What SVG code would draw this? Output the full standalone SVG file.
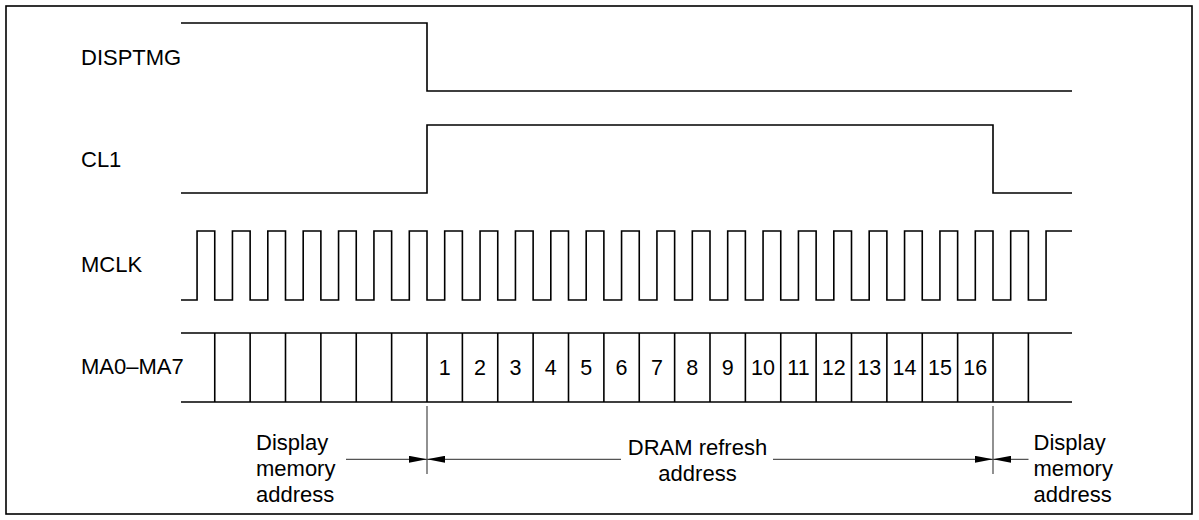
<svg xmlns="http://www.w3.org/2000/svg" width="1199" height="520" viewBox="0 0 1199 520">
<style>
.sig{fill:none;stroke:#000;stroke-width:1.6}
.lbl{font-family:"Liberation Sans",Arial,sans-serif;font-size:22px;fill:#000}
.num{font-family:"Liberation Sans",Arial,sans-serif;font-size:21.5px;fill:#000;text-anchor:middle}
.dim{fill:none;stroke:#555;stroke-width:1.3}
.mid{text-anchor:middle}
</style>
<defs>
<marker id="arr" markerUnits="userSpaceOnUse" markerWidth="18" markerHeight="7" refX="18" refY="3.5" orient="auto">
<path d="M0,0 L18,3.5 L0,7 z" fill="#000"/>
</marker>
</defs>
<rect x="6" y="6" width="1186" height="508" fill="#fff" stroke="#000" stroke-width="1.6"/>
<g id="disptmg">
<text class="lbl" x="81" y="65">DISPTMG</text>
<path class="sig" d="M181,23 H427 V91 H1072"/>
</g>
<g id="cl1">
<text class="lbl" x="81" y="167">CL1</text>
<path class="sig" d="M181,193 H427 V125 H993 V193 H1072"/>
</g>
<g id="mclk">
<text class="lbl" x="81" y="272">MCLK</text>
<path class="sig" d="M181,300 H197.06 V231 H214.75 V300 H232.44 V231 H250.13 V300 H267.81 V231 H285.5 V300 H303.19 V231 H320.88 V300 H338.56 V231 H356.25 V300 H373.94 V231 H391.63 V300 H409.31 V231 H427 V300 H444.69 V231 H462.38 V300 H480.06 V231 H497.75 V300 H515.44 V231 H533.13 V300 H550.81 V231 H568.5 V300 H586.19 V231 H603.88 V300 H621.56 V231 H639.25 V300 H656.94 V231 H674.63 V300 H692.31 V231 H710 V300 H727.69 V231 H745.38 V300 H763.06 V231 H780.75 V300 H798.44 V231 H816.13 V300 H833.81 V231 H851.5 V300 H869.19 V231 H886.88 V300 H904.56 V231 H922.25 V300 H939.94 V231 H957.63 V300 H975.31 V231 H993 V300 H1010.69 V231 H1028.38 V300 H1046.06 V231 H1072"/>
</g>
<g id="ma">
<text class="lbl" x="81" y="374">MA0–MA7</text>
<path class="sig" d="M181,333 H1072 M181,402 H1072 M214.75,333 V402 M250.13,333 V402 M285.5,333 V402 M320.88,333 V402 M356.25,333 V402 M391.63,333 V402 M427,333 V402 M462.38,333 V402 M497.75,333 V402 M533.13,333 V402 M568.5,333 V402 M603.88,333 V402 M639.25,333 V402 M674.63,333 V402 M710,333 V402 M745.38,333 V402 M780.75,333 V402 M816.13,333 V402 M851.5,333 V402 M886.88,333 V402 M922.25,333 V402 M957.63,333 V402 M993,333 V402 M1028.38,333 V402"/>
<text class="num" x="444.69" y="374.5">1</text>
<text class="num" x="480.06" y="374.5">2</text>
<text class="num" x="515.44" y="374.5">3</text>
<text class="num" x="550.81" y="374.5">4</text>
<text class="num" x="586.19" y="374.5">5</text>
<text class="num" x="621.56" y="374.5">6</text>
<text class="num" x="656.94" y="374.5">7</text>
<text class="num" x="692.31" y="374.5">8</text>
<text class="num" x="727.69" y="374.5">9</text>
<text class="num" x="763.06" y="374.5">10</text>
<text class="num" x="798.44" y="374.5">11</text>
<text class="num" x="833.81" y="374.5">12</text>
<text class="num" x="869.19" y="374.5">13</text>
<text class="num" x="904.56" y="374.5">14</text>
<text class="num" x="939.94" y="374.5">15</text>
<text class="num" x="975.31" y="374.5">16</text>
</g>
<g id="connectors">
<line class="dim" x1="427" y1="406" x2="427" y2="474"/>
<line class="dim" x1="993" y1="406" x2="993" y2="474"/>
<line class="dim" x1="346" y1="459.3" x2="427" y2="459.3" marker-end="url(#arr)"/>
<line class="dim" x1="621" y1="459.3" x2="427" y2="459.3" marker-end="url(#arr)"/>
<line class="dim" x1="773" y1="459.3" x2="993" y2="459.3" marker-end="url(#arr)"/>
<line class="dim" x1="1028.5" y1="459.3" x2="993" y2="459.3" marker-end="url(#arr)"/>
</g>
<g id="label-left">
<text class="lbl" x="256" y="450">Display</text>
<text class="lbl" x="256" y="476">memory</text>
<text class="lbl" x="256" y="502">address</text>
</g>
<g id="label-mid">
<text class="lbl mid" x="697.5" y="455">DRAM refresh</text>
<text class="lbl mid" x="697.5" y="481">address</text>
</g>
<g id="label-right">
<text class="lbl" x="1033.5" y="450">Display</text>
<text class="lbl" x="1033.5" y="476">memory</text>
<text class="lbl" x="1033.5" y="502">address</text>
</g>
</svg>
